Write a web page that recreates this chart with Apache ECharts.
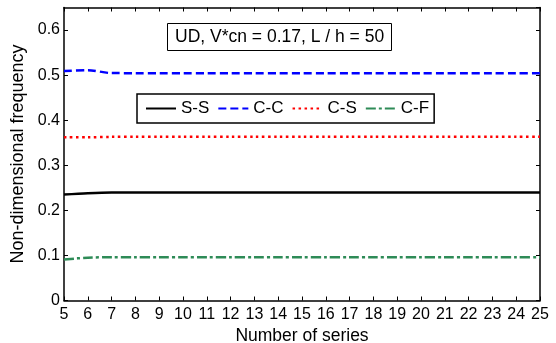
<!DOCTYPE html>
<html>
<head>
<meta charset="utf-8">
<script src="https://cdn.jsdelivr.net/npm/echarts@6/dist/echarts.min.js"></script>
<style>
  html, body { margin: 0; padding: 0; background: #fff; }
  #chart { width: 556px; height: 343px; }
</style>
</head>
<body>
<div id="chart"></div>
<script>
// Number of series (x axis)
const seriesCount = [5, 6, 7, 8, 9, 10, 11, 12, 13, 14, 15, 16, 17, 18, 19, 20, 21, 22, 23, 24, 25];

// Non-dimensional frequency for each boundary condition
const ssValues = [0.235, 0.238, 0.2395, 0.2395, 0.2395, 0.2395, 0.2395, 0.2395, 0.2395, 0.2395, 0.2395, 0.2395, 0.2395, 0.2395, 0.2395, 0.2395, 0.2395, 0.2395, 0.2395, 0.2395, 0.2395];
const ccValues = [0.509, 0.511, 0.5045, 0.5044, 0.5044, 0.5044, 0.5044, 0.5044, 0.5044, 0.5044, 0.5044, 0.5044, 0.5044, 0.5044, 0.5044, 0.5044, 0.5044, 0.5044, 0.5044, 0.5044, 0.5044];
const csValues = [0.362, 0.362, 0.363, 0.363, 0.363, 0.363, 0.363, 0.363, 0.363, 0.363, 0.363, 0.363, 0.363, 0.363, 0.363, 0.363, 0.363, 0.363, 0.363, 0.363, 0.363];
const cfValues = [0.091, 0.095, 0.096, 0.096, 0.096, 0.096, 0.096, 0.096, 0.096, 0.096, 0.096, 0.096, 0.096, 0.096, 0.096, 0.096, 0.096, 0.096, 0.096, 0.096, 0.096];

const seriesNames = ['S-S', 'C-C', 'C-S', 'C-F'];
const annotation = 'UD, V*cn = 0.17, L / h = 50';

const pairs = vals => seriesCount.map((x, i) => [x, vals[i]]);
const font = 'Arial, "Liberation Sans", sans-serif';

const chart = echarts.init(document.getElementById('chart'));

const baseX = {
  type: 'value', min: 5, max: 25, interval: 1,
  axisLine: { show: true, onZero: false, lineStyle: { color: '#000', width: 1.5 } },
  axisTick: { show: true, inside: true, length: 4, lineStyle: { color: '#000', width: 1 } },
  splitLine: { show: false }
};
const baseY = {
  type: 'value', min: 0, max: 0.65, interval: 0.1,
  axisLine: { show: true, onZero: false, lineStyle: { color: '#000', width: 1.5 } },
  axisTick: { show: true, inside: true, length: 4, lineStyle: { color: '#000', width: 1 } },
  splitLine: { show: false }
};

chart.setOption({
  animation: false,
  backgroundColor: '#fff',
  title: {
    text: annotation,
    left: 167, top: 23,
    borderColor: '#000', borderWidth: 1,
    padding: [5, 8, 4, 8],
    textStyle: { fontFamily: font, fontSize: 17.5, fontWeight: 'normal', color: '#000', lineHeight: 19 }
  },
  legend: {
    data: seriesNames,
    left: 137, top: 94,
    borderColor: '#000', borderWidth: 1.5,
    padding: [6, 5, 6, 8],
    itemWidth: 30, itemHeight: 14, itemGap: 8,
    itemStyle: { opacity: 0 },
    textStyle: { fontFamily: font, fontSize: 17, color: '#000' }
  },
  grid: { left: 64, right: 16, top: 7.5, bottom: 42.5, outerBoundsMode: 'none', containLabel: false },
  xAxis: [
    Object.assign({}, baseX, {
      position: 'bottom',
      name: 'Number of series', nameLocation: 'middle', nameGap: 25,
      nameTextStyle: { fontFamily: font, fontSize: 17.5, color: '#000' },
      axisLabel: { fontFamily: font, fontSize: 16, color: '#000', margin: 6 }
    }),
    Object.assign({}, baseX, { position: 'top', axisLabel: { show: false } })
  ],
  yAxis: [
    Object.assign({}, baseY, {
      position: 'left',
      name: 'Non-dimensional frequency', nameLocation: 'middle', nameGap: 30,
      nameTextStyle: { fontFamily: font, fontSize: 18, color: '#000' },
      axisLabel: { fontFamily: font, fontSize: 16, color: '#000', margin: 4, showMaxLabel: false,
        formatter: v => (v === 0 ? '0' : v.toFixed(1)) }
    }),
    Object.assign({}, baseY, { position: 'right', axisLabel: { show: false } })
  ],
  series: [
    { name: 'S-S', type: 'line', data: pairs(ssValues), showSymbol: false, symbol: 'none', smooth: 0.3,
      color: '#000', lineStyle: { color: '#000', width: 2.5, type: 'solid' } },
    { name: 'C-C', type: 'line', data: pairs(ccValues), showSymbol: false, symbol: 'none', smooth: 0.3,
      color: '#0000ff', lineStyle: { color: '#0000ff', width: 2.5, type: [8, 4] } },
    { name: 'C-S', type: 'line', data: pairs(csValues), showSymbol: false, symbol: 'none', smooth: 0.3,
      color: '#ff0000', lineStyle: { color: '#ff0000', width: 2.5, type: [2.5, 3.5] } },
    { name: 'C-F', type: 'line', data: pairs(cfValues), showSymbol: false, symbol: 'none', smooth: 0.3,
      color: '#2e8b57', lineStyle: { color: '#2e8b57', width: 2.5, type: [10, 3, 3, 3] } }
  ]
});
</script>
</body>
</html>
